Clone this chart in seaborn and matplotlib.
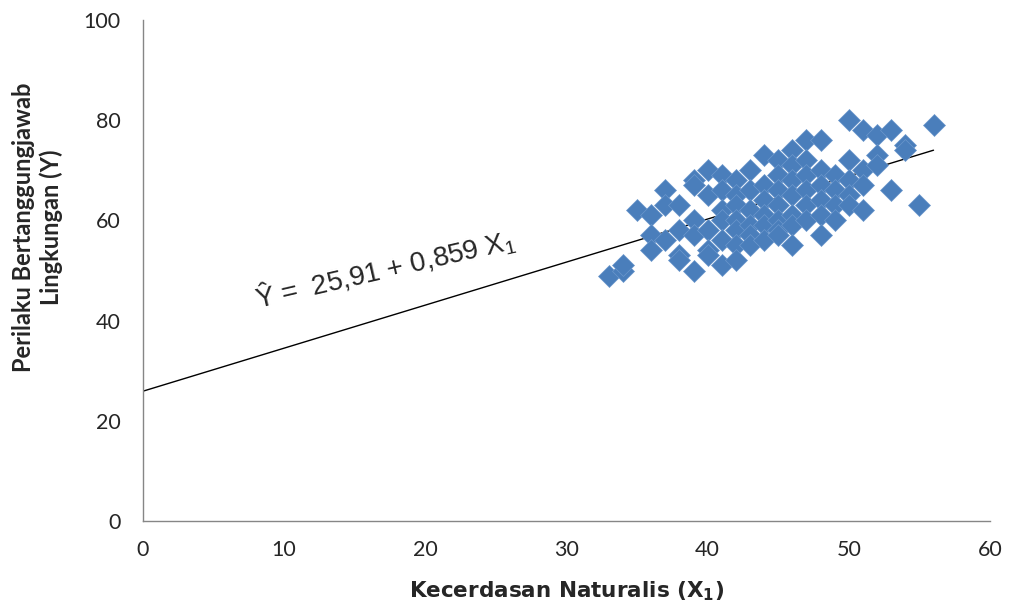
import seaborn as sns
import pandas as pd
import matplotlib.pyplot as plt

# Kecerdasan Naturalis (X1) vs Perilaku Bertanggungjawab Lingkungan (Y)
x1 = [33, 34, 34, 35, 36, 36, 36, 37, 37, 37,
      38, 38, 38, 38, 39, 39, 39, 39, 39, 40,
      40, 40, 40, 40, 41, 41, 41, 41, 41, 41,
      42, 42, 42, 42, 42, 42, 42, 43, 43, 43,
      43, 43, 43, 44, 44, 44, 44, 44, 44, 45,
      45, 45, 45, 45, 45, 45, 46, 46, 46, 46,
      46, 46, 46, 47, 47, 47, 47, 47, 47, 48,
      48, 48, 48, 48, 48, 49, 49, 49, 49, 50,
      50, 50, 50, 50, 51, 51, 51, 51, 52, 52,
      52, 53, 53, 54, 54, 55, 56]
y = [49, 50, 51, 62, 61, 57, 54, 66, 63, 56,
     63, 58, 53, 52, 68, 67, 60, 57, 50, 70,
     65, 58, 54, 53, 69, 66, 62, 60, 56, 51,
     68, 65, 63, 60, 58, 55, 52, 70, 66, 62,
     59, 57, 55, 73, 67, 64, 61, 59, 56, 72,
     69, 66, 63, 60, 58, 57, 74, 71, 68, 65,
     61, 59, 55, 76, 72, 69, 66, 63, 60, 76,
     70, 67, 64, 61, 57, 69, 66, 63, 60, 80,
     72, 68, 65, 63, 78, 70, 67, 62, 77, 73,
     71, 78, 66, 75, 74, 63, 79]

b0 = 25.91
b1 = 0.859
line_x = [0, 56]

df = pd.DataFrame({"X1": x1, "Y": y})
fit = pd.DataFrame({"X1": line_x, "Y": [b0 + b1 * v for v in line_x]})

sns.set_style("white")
plt.rcParams['font.family'] = ['Lato', 'DejaVu Sans']
plt.rcParams['mathtext.fontset'] = 'custom'
plt.rcParams['mathtext.rm'] = 'Liberation Sans'
plt.rcParams['mathtext.it'] = 'Liberation Sans:italic'
plt.rcParams['mathtext.bf'] = 'DejaVu Sans:bold'

fig = plt.figure(figsize=(10.16, 6.12), dpi=100)
ax = fig.add_axes([0.1407, 0.1487, 0.8337, 0.8186])

sns.lineplot(data=fit, x="X1", y="Y", color="black", linewidth=1, ax=ax)
sns.scatterplot(data=df, x="X1", y="Y", marker="D", s=125, color="#4A7EBB",
                edgecolor="#6b97cc", linewidth=0.5, ax=ax, zorder=3)

ax.set_xlim(0, 60)
ax.set_ylim(0, 100)
ax.set_xticks(range(0, 61, 10))
ax.set_yticks(range(0, 101, 20))

for side in ["top", "right"]:
    ax.spines[side].set_visible(False)
for side in ["left", "bottom"]:
    ax.spines[side].set_color("#868686")
    ax.spines[side].set_linewidth(1)

ax.tick_params(axis="both", direction="out", length=5, width=1, color="#868686",
               labelsize=15.5, labelcolor="#262626")
ax.tick_params(axis="x", pad=9)
ax.tick_params(axis="y", pad=11)

ax.set_xlabel("Kecerdasan Naturalis (X$_\\mathbf{1}$)", family="DejaVu Sans",
              fontweight="bold", fontsize=15.5, labelpad=14)
ax.set_ylabel("Perilaku Bertanggungjawab\nLingkungan (Y)", family="Lato",
              fontweight="bold", fontsize=17, linespacing=1.25)
ax.yaxis.set_label_coords(-0.094, 0.587)

ax.text(8.1, 42.3, "Ŷ =  25,91 + 0,859 X$_1$", family="Liberation Sans",
        fontsize=20, rotation=13, rotation_mode="anchor", ha="left", va="baseline")

fig.savefig("out.png", dpi=100)
